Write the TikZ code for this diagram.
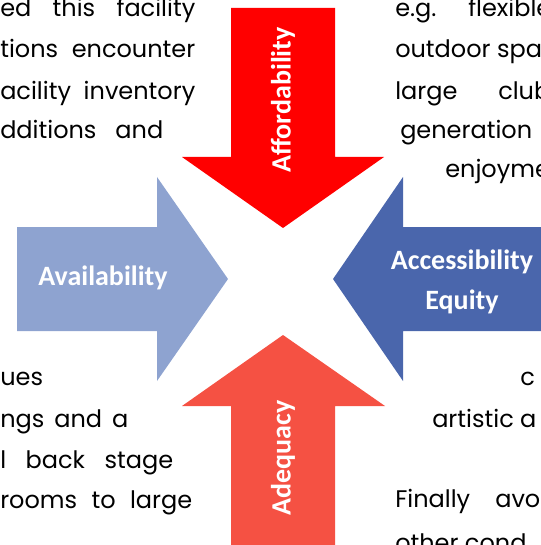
\documentclass[tikz,border=0pt]{standalone}
\usepackage{fontspec}
\setmainfont{Poppins}
\newfontfamily\labelfont{Carlito}
\definecolor{affred}{HTML}{FF0000}
\definecolor{adqred}{HTML}{F55143}
\definecolor{avblue}{HTML}{8EA3D0}
\definecolor{acblue}{HTML}{4A66AC}

\begin{document}
\begin{tikzpicture}[x=0.75pt,y=-0.75pt,
	bgtext/.style={font=\fontsize{18}{18}\selectfont, inner sep=0pt, anchor=base west},
	arrowlabel/.style={font=\labelfont\bfseries\fontsize{21}{30}\selectfont, text=white, inner sep=0pt, align=center}]
\useasboundingbox (0,0) rectangle (541,545);
\clip (0,0) rectangle (541,545);

%top left text
\node [bgtext] (tl1) at (0,17) {\makebox[146.25pt][s]{ed this facility}};
\node [bgtext] (tl2) at (0,58) {\makebox[146.25pt][s]{tions encounter}};
\node [bgtext] (tl3) at (0,100) {\makebox[146.25pt][s]{acility inventory}};
\node [bgtext] (tl4) at (0,139) {\makebox[122.25pt][s]{dditions and}};
%bottom left text
\node [bgtext] (bl1) at (0,385) {ues};
\node [bgtext] (bl2) at (0,427) {\makebox[96pt][s]{ngs and a}};
\node [bgtext] (bl3) at (0,468) {\makebox[129.75pt][s]{l back stage}};
\node [bgtext] (bl4) at (0,508) {\makebox[144pt][s]{rooms to large}};
%top right text
\node [bgtext] (tr1) at (395,17) {e.g.};
\node [bgtext] (tr1b) at (468,17) {flexible};
\node [bgtext] (tr2) at (395,58) {outdoor spa};
\node [bgtext] (tr3) at (395,100) {large};
\node [bgtext] (tr3b) at (498,100) {club};
\node [bgtext] (tr4) at (400,139) {generation};
\node [bgtext] (tr5) at (445,178) {enjoyme};
%bottom right text
\node [bgtext] (br1) at (520,385) {c};
\node [bgtext] (br2) at (432,427) {artistic a};
\node [bgtext] (br3) at (395,507) {Finally};
\node [bgtext] (br3b) at (495,507) {avo};
\node [bgtext] (br4) at (395,551) {other cond};

%top arrow
\fill [affred] (231,8)--(335,8)--(335,157)--(384,157)--(283,228)--(182,157)--(231,157)--cycle;
%bottom arrow
\fill [adqred] (283,335)--(385,406)--(335,406)--(335,550)--(231,550)--(231,406)--(182,406)--cycle;
%left arrow
\fill [avblue] (17,227)--(157,227)--(157,177)--(228,279)--(157,381)--(157,331)--(17,331)--cycle;
%right arrow
\fill [acblue] (333,279)--(403,177)--(403,227)--(550,227)--(550,331)--(403,331)--(403,381)--cycle;

%arrow labels
\node [arrowlabel, rotate=90] (afford) at (283,100) {Affordability};
\node [arrowlabel, rotate=90] (adeq) at (283,458) {Adequacy};
\node [arrowlabel] (avail) at (103,278) {Availability};
\node [arrowlabel] (access) at (462,282) {Accessibility\\Equity};
\end{tikzpicture}
\end{document}
